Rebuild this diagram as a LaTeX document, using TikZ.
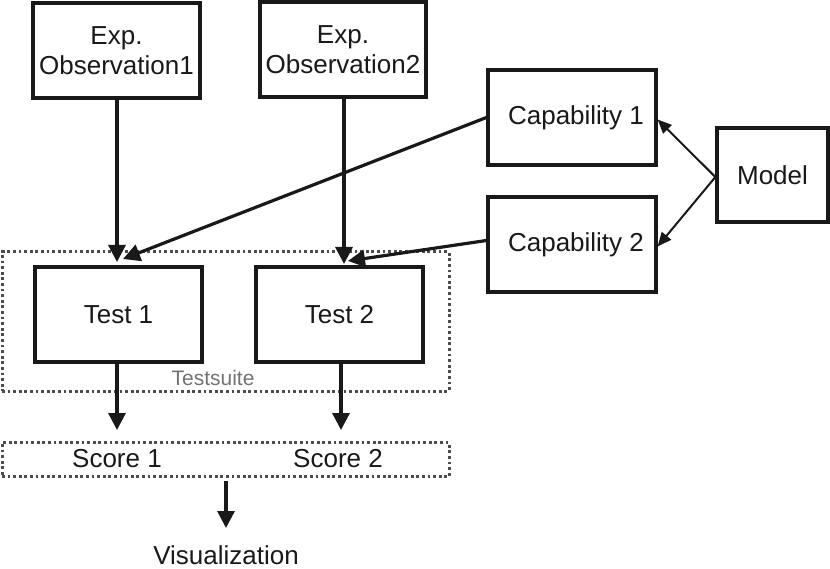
\documentclass[tikz,border=0pt]{standalone}
\usepackage{fontspec}
\setmainfont{Liberation Sans}
\usetikzlibrary{arrows.meta}
\begin{document}
\begin{tikzpicture}[x=1pt,y=-1pt,
  box/.style={draw=black!90, line width=3.2pt, fill=white, inner sep=0pt, align=center,
    font=\fontsize{26}{30}\selectfont, text=black!90},
  grp/.style={draw=black!70, line width=3pt, dash pattern=on 2.8pt off 2.8pt},
  lbl/.style={font=\fontsize{26}{30}\selectfont, text=black!90, inner sep=0pt},
  arr/.style={draw=black!90, line width=3.2pt, -{Triangle[length=17pt,width=17pt]}},
  thin/.style={draw=black!90, line width=2pt, -{Triangle[length=14pt,width=12pt]}}]
\useasboundingbox (0,0) rectangle (830,569);
% group boxes
\node[grp, minimum width=447pt, minimum height=139pt, inner sep=0pt] (suite) at (225.5,321.5) {};
\node[grp, minimum width=447pt, minimum height=34pt, inner sep=0pt] (scores) at (225.5,459.5) {};
% boxes
\node[box, minimum width=167pt, minimum height=95pt] (o1) at (116.5,50.5) {Exp.\\Observation1};
\node[box, minimum width=166pt, minimum height=95pt] (o2) at (343,49.5) {Exp.\\Observation2};
\node[box, minimum width=168pt, minimum height=95pt] (c1) at (572,117.5) {\hspace*{8pt}Capability 1};
\node[box, minimum width=168pt, minimum height=95pt] (c2) at (572,244.5) {\hspace*{8pt}Capability 2};
\node[box, minimum width=111pt, minimum height=94pt] (m) at (772.5,175) {Model};
\node[box, minimum width=167pt, minimum height=95pt] (t1) at (118.5,314.5) {Test 1};
\node[box, minimum width=167pt, minimum height=95pt] (t2) at (339.5,314.5) {Test 2};
% labels
\node[lbl, font=\fontsize{21}{25}\selectfont, text=black!55] (ts) at (213,378) {Testsuite};
\node[lbl] (s1) at (117,459) {Score 1};
\node[lbl] (s2) at (338,459) {Score 2};
\node[lbl] (vis) at (226,555) {Visualization};
% connectors
\coordinate (t1a) at (117,262);
\coordinate (t1b) at (123,259);
\coordinate (t2a) at (344,264);
\coordinate (t2b) at (348,261);
\coordinate (s1a) at (117,430);
\coordinate (s2a) at (341,430);
\coordinate (va) at (226,528);
\draw[arr] (o1.south -| t1a) -- (t1a);
\draw[arr] (o2.south -| t2a) -- (t2a);
\draw[arr] (c1.west) -- (t1b);
\draw[arr] ([yshift=4pt]c2.west) -- (t2b);
\draw[arr] (t1.south -| s1a) -- (s1a);
\draw[arr] (t2.south -| s2a) -- (s2a);
\draw[arr] (226,481) -- (va);
\draw[thin] ([yshift=-2pt]m.west) -- ([yshift=-2pt]c1.east);
\draw[thin] ([yshift=-2pt]m.west) -- ([yshift=-2pt]c2.east);
\end{tikzpicture}
\end{document}
